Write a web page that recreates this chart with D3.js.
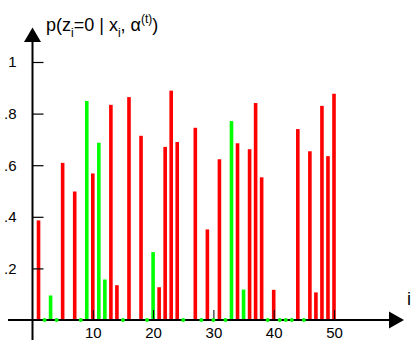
<!DOCTYPE html>
<html>
<head>
<meta charset="utf-8">
<script src="https://cdn.jsdelivr.net/npm/d3@7"></script>
<style>
  body { margin: 0; background: #fff; }
  text { font-family: "Liberation Sans", Arial, sans-serif; }
</style>
</head>
<body>
<script>
// index i = 1..50
const idx = [1,2,3,4,5,6,7,8,9,10,11,12,13,14,15,16,17,18,19,20,21,22,23,24,25,
  26,27,28,29,30,31,32,33,34,35,36,37,38,39,40,41,42,43,44,45,46,47,48,49,50]
// p(z_i=0 | x_i, alpha^(t))
const prob = [0.386,0.004,0.095,0.004,0.609,0.003,0.498,0.004,0.849,0.568,
  0.687,0.157,0.834,0.135,0.004,0.864,0.003,0.714,0.004,0.263,
  0.127,0.671,0.889,0.69,0.004,0.003,0.745,0.004,0.351,0.004,
  0.623,0.004,0.771,0.685,0.118,0.662,0.841,0.553,0.004,0.117,
  0.004,0.004,0.004,0.74,0.004,0.654,0.107,0.83,0.635,0.877]
// g = green, r = red
const cls = ['r','g','g','g','r','g','r','g','g','r',
  'g','g','r','r','g','r','g','r','g','g',
  'r','r','r','r','g','g','r','g','r','g',
  'r','g','g','r','g','r','r','r','g','r',
  'g','g','g','r','g','r','r','r','r','r']
// indices shown with a green marker on the axis
const marks = [2,4,8,15,19,25,28,30,32,39,41,42,43,45]
const yTicks = [0.2,0.4,0.6,0.8,1]
const xTicks = [10,20,30,40,50]

const W = 414, H = 340
const svg = d3.select('body').append('svg').attr('width', W).attr('height', H)

const x = d3.scaleLinear().domain([0, 50]).range([32.5, 334])
const y = d3.scaleLinear().domain([0, 1]).range([320, 62])

const colour = { r: '#ff0000', g: '#00ff00' }

// bars
svg.append('g').selectAll('rect')
  .data(idx)
  .join('rect')
  .attr('x', (d) => x(d) - 1.8)
  .attr('width', 3.6)
  .attr('y', (d, i) => y(prob[i]))
  .attr('height', (d, i) => y(0) - y(prob[i]))
  .attr('fill', (d, i) => colour[cls[i]])

// y axis ticks + labels
const fmt = (d) => d === 1 ? '1' : d3.format('.1f')(d).replace(/^0/, '')
const gy = svg.append('g')
  .attr('transform', `translate(${x(0)},0)`)
  .call(d3.axisLeft(y).tickValues(yTicks).tickFormat(fmt).tickSizeInner(-11).tickSizeOuter(0).tickPadding(16))
gy.select('.domain').remove()
gy.selectAll('line').attr('stroke', '#000').attr('stroke-width', 1.2)
gy.selectAll('text').attr('font-size', 15).attr('fill', '#000')
  .attr('font-family', '"Liberation Sans", Arial, sans-serif')

// x axis ticks + labels
const gx = svg.append('g')
  .attr('transform', `translate(0,${y(0)})`)
  .call(d3.axisBottom(x).tickValues(xTicks).tickSizeInner(-10).tickSizeOuter(0).tickPadding(7))
gx.select('.domain').remove()
gx.selectAll('line').attr('stroke', '#000').attr('stroke-width', 1)
gx.selectAll('text').attr('font-size', 15).attr('fill', '#000')
  .attr('font-family', '"Liberation Sans", Arial, sans-serif')

// axis lines with arrows
svg.append('line')
  .attr('x1', 8).attr('x2', 392).attr('y1', y(0)).attr('y2', y(0))
  .attr('stroke', '#000').attr('stroke-width', 2)
svg.append('path')
  .attr('d', `M389,${y(0) - 8.5}L404,${y(0)}L389,${y(0) + 8.5}Z`)
  .attr('fill', '#000')
svg.append('line')
  .attr('x1', x(0)).attr('x2', x(0)).attr('y1', H).attr('y2', 40)
  .attr('stroke', '#000').attr('stroke-width', 2)
svg.append('path')
  .attr('d', `M${x(0) - 8.5},42L${x(0)},27.5L${x(0) + 8.5},42Z`)
  .attr('fill', '#000')

// green markers on the axis
svg.append('g').selectAll('circle')
  .data(marks)
  .join('circle')
  .attr('cx', (d) => x(d))
  .attr('cy', y(0))
  .attr('r', 2)
  .attr('fill', '#00ff00')

// axis titles
const title = svg.append('text')
  .attr('x', 46).attr('y', 31)
  .attr('font-size', 18).attr('fill', '#000')
title.append('tspan').text('p(z')
title.append('tspan').attr('dy', 6).attr('font-size', 12).text('i')
title.append('tspan').attr('dy', -6).text('=0 | x')
title.append('tspan').attr('dy', 6).attr('font-size', 12).text('i')
title.append('tspan').attr('dy', -6).text(', α')
title.append('tspan').attr('dy', -8).attr('font-size', 12).text('(t)')
title.append('tspan').attr('dy', 8).text(')')

svg.append('text')
  .attr('x', 407).attr('y', 305)
  .attr('font-size', 18).attr('fill', '#000')
  .text('i')
</script>
</body>
</html>
